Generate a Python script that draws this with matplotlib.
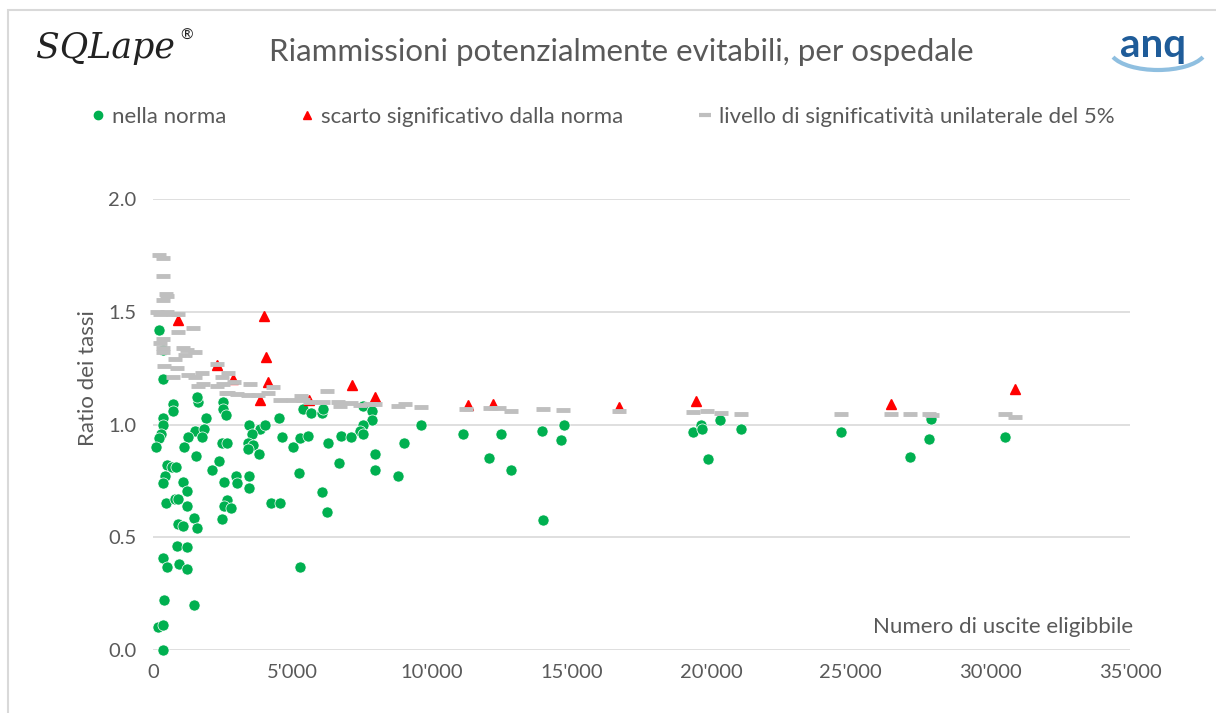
import matplotlib.pyplot as plt
from matplotlib.lines import Line2D
from matplotlib.patches import Rectangle, Arc
from matplotlib.ticker import FuncFormatter

plt.rcParams['font.family'] = ['Lato', 'DejaVu Sans']

# hospitals within the norm
green_x = [215, 358, 358, 716, 716, 1612, 1576, 2508, 2508, 2615, 5374, 5660, 6054, 6090,
           7523, 7845, 7845, 358, 1899, 358, 3439, 3833, 4012, 4514, 7523, 7416, 7523, 9601,
           287, 215, 107, 1505, 1827, 1755, 1254, 1111, 2472, 2651, 3547, 3403, 3582, 3403,
           3797, 4621, 5015, 5266, 5553, 6269, 6735, 7093, 7953, 8992, 1540, 2364, 2114, 502,
           681, 824, 430, 358, 1075, 1218, 2544, 2973, 3009, 3439, 3439, 5230, 6663, 7953,
           8777, 466, 788, 896, 1218, 2651, 2544, 2794, 4227, 4550, 6054, 6233, 896, 1075,
           1469, 1576, 2472, 860, 1218, 358, 502, 931, 1218, 5266, 394, 1469, 179, 358, 358,
           11105, 12467, 12037, 12825, 13936, 14724, 14616, 13971, 19345, 19631, 19667, 19882,
           20312, 21064, 24647, 27871, 27799, 27119, 30522]
green_y = [1.42, 1.33, 1.20, 1.09, 1.06, 1.10, 1.12, 1.10, 1.07, 1.04, 1.07, 1.05, 1.05, 1.07,
           1.08, 1.06, 1.02, 1.03, 1.03, 1.00, 1.00, 0.98, 1.00, 1.03, 1.00, 0.97, 0.96, 1.00,
           0.96, 0.94, 0.90, 0.97, 0.98, 0.945, 0.945, 0.90, 0.92, 0.92, 0.96, 0.92, 0.91, 0.89,
           0.87, 0.945, 0.90, 0.94, 0.95, 0.92, 0.95, 0.945, 0.87, 0.92, 0.86, 0.84, 0.80, 0.82,
           0.81, 0.81, 0.77, 0.74, 0.745, 0.705, 0.745, 0.77, 0.74, 0.77, 0.72, 0.785, 0.83, 0.80,
           0.77, 0.65, 0.67, 0.67, 0.64, 0.665, 0.64, 0.63, 0.65, 0.65, 0.70, 0.61, 0.56, 0.55,
           0.585, 0.54, 0.58, 0.46, 0.457, 0.41, 0.37, 0.38, 0.36, 0.37, 0.22, 0.20, 0.10, 0.11, 0.0,
           0.96, 0.96, 0.85, 0.80, 0.97, 1.00, 0.93, 0.575, 0.967, 1.00, 0.98, 0.845,
           1.02, 0.98, 0.967, 1.025, 0.936, 0.856, 0.945]

# hospitals with a significant deviation
red_x = [896, 3976, 4048, 2293, 2866, 4120, 3833, 5589, 7129, 7953, 11285, 12180, 16694,
         19452, 26438, 30880]
red_y = [1.463, 1.48, 1.30, 1.264, 1.20, 1.19, 1.11, 1.11, 1.175, 1.12, 1.086, 1.09, 1.078,
         1.104, 1.09, 1.157]

# one-sided 5% significance thresholds
lim_x = [215, 358, 358, 466, 502, 358, 143, 502, 251, 716, 896, 896, 1433, 358, 251, 358, 358,
         1075, 1218, 1146, 1505, 394, 788, 860, 716, 1254, 1505, 1755, 1791, 1612, 2293, 2472,
         2508, 2687, 2902, 2293, 2615, 2687, 3009, 3475, 3403, 3761, 4120, 4299, 4550, 5015,
         5302, 5374, 5624, 6090, 6233, 6627, 6699, 7093, 7416, 7774, 7953, 8777, 9028, 9601,
         11213, 12073, 12395, 12825, 13971, 14688, 16694, 19345, 19846, 20348, 21064, 24647,
         26438, 27119, 27799, 27907, 30522, 30880]
lim_y = [1.75, 1.74, 1.66, 1.58, 1.57, 1.55, 1.50, 1.50, 1.49, 1.49, 1.49, 1.41, 1.43, 1.38,
         1.36, 1.34, 1.32, 1.34, 1.33, 1.31, 1.32, 1.26, 1.29, 1.25, 1.21, 1.22, 1.21, 1.23,
         1.18, 1.17, 1.27, 1.21, 1.18, 1.23, 1.19, 1.17, 1.14, 1.14, 1.135, 1.18, 1.13, 1.13,
         1.14, 1.165, 1.11, 1.11, 1.125, 1.11, 1.10, 1.10, 1.15, 1.10, 1.08, 1.095, 1.086, 1.09,
         1.09, 1.08, 1.09, 1.078, 1.07, 1.073, 1.073, 1.06, 1.07, 1.064, 1.06, 1.055, 1.06,
         1.05, 1.047, 1.047, 1.047, 1.047, 1.047, 1.043, 1.047, 1.033]

x_ticks = [0, 5000, 10000, 15000, 20000, 25000, 30000, 35000]
y_ticks = [0.0, 0.5, 1.0, 1.5, 2.0]

W, H = 1216, 713
fig = plt.figure(figsize=(W / 100, H / 100), dpi=100)
ax = fig.add_axes([153 / W, 1 - 650 / H, (1130 - 153) / W, (650 - 199) / H])

green = '#00b050'
grey = '#bfbfbf'
txt = '#595959'

ax.plot(green_x, green_y, 'o', color=green, markersize=8, markeredgecolor='white',
        markeredgewidth=0.5, clip_on=False, zorder=3, label='nella norma')
ax.plot(red_x, red_y, '^', color='#ff0000', markersize=7, markeredgecolor='#ff0000',
        clip_on=False, zorder=3, label='scarto significativo dalla norma')
ax.plot(lim_x, lim_y, '_', color=grey, markersize=10, markeredgewidth=3.5,
        clip_on=False, zorder=4, label='livello di significatività unilaterale del 5%')

ax.set_xlim(0, 35000)
ax.set_ylim(0, 2.0)
ax.set_xticks(x_ticks)
ax.set_yticks(y_ticks)
ax.xaxis.set_major_formatter(FuncFormatter(lambda v, p: f'{int(v):,}'.replace(',', "'")))
ax.yaxis.set_major_formatter(FuncFormatter(lambda v, p: f'{v:.1f}'))
ax.tick_params(length=0, labelsize=14.5, colors=txt)
ax.tick_params(axis='y', pad=12)
ax.tick_params(axis='x', pad=10)
ax.grid(axis='y', color='#d9d9d9', linewidth=1.2)
ax.set_axisbelow(True)
for s in ax.spines.values():
    s.set_visible(False)

ax.text(1.003, 0.05, 'Numero di uscite eligibbile', transform=ax.transAxes,
        ha='right', va='center', fontsize=16, color=txt)
fig.text(88 / W, 1 - 378 / H, 'Ratio dei tassi', rotation=90, ha='center', va='center',
         fontsize=16, color=txt)

fig.text(621 / W, 1 - 52 / H, 'Riammissioni potenzialmente evitabili, per ospedale',
         ha='center', va='center', fontsize=22.5, color=txt)

# logos
fig.text(36 / W, 1 - 48 / H, 'SQLape', ha='left', va='center', fontsize=25,
         family='DejaVu Serif', style='italic', color='#222222')
fig.text(180 / W, 1 - 36 / H, '®', ha='left', va='center', fontsize=11, color='#222222')
fig.text(1153 / W, 1 - 46 / H, 'anq', ha='center', va='center', fontsize=29,
         fontweight='bold', color='#1f5c99')
fig.add_artist(Arc((1158 / W, 1 - 50 / H), 96 / W, 40 / H, theta1=195, theta2=345,
                   transform=fig.transFigure, color='#8fbfe0', lw=3))

fig.add_artist(Rectangle((8 / W, -0.01), 1.0, 1 - 10 / H + 0.01, transform=fig.transFigure,
                         fill=False, edgecolor='#d9d9d9', lw=1.5))

leg = fig.legend(handles=[
    Line2D([], [], marker='o', ls='', color=green, markersize=6),
    Line2D([], [], marker='^', ls='', color='#ff0000', markersize=6),
    Line2D([], [], marker='_', ls='', color=grey, markersize=8, markeredgewidth=3)],
    labels=['nella norma', 'scarto significativo dalla norma',
            'livello di significatività unilaterale del 5%'],
    loc='center left', bbox_to_anchor=(89 / W, 1 - 117 / H), ncol=3, frameon=False,
    fontsize=16, handlelength=0.8, handletextpad=0.23, columnspacing=3.25,
    borderpad=0, borderaxespad=0, labelcolor=txt)

fig.savefig('out.png', dpi=100)
